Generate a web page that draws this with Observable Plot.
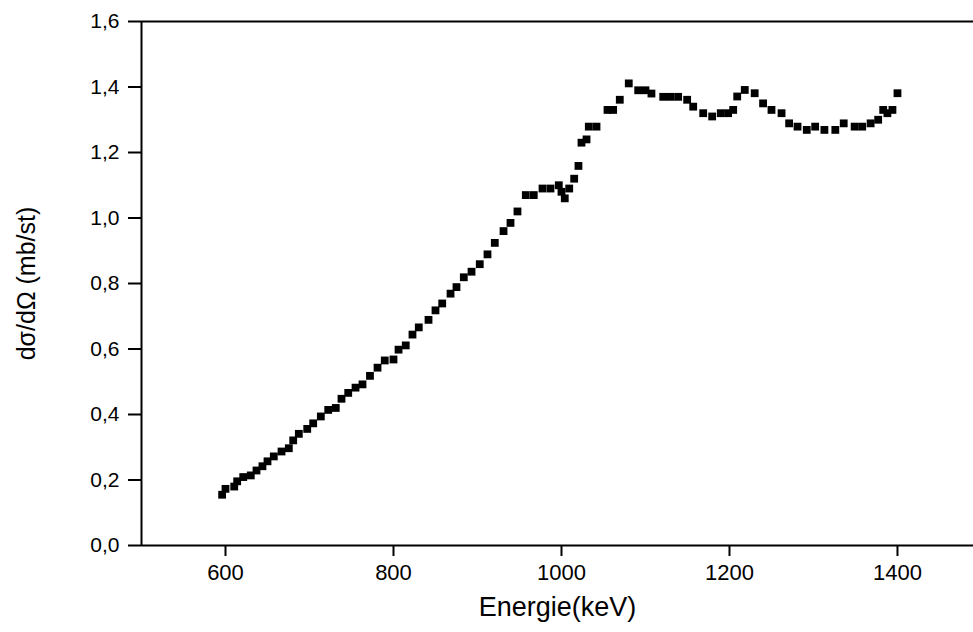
<!DOCTYPE html>
<html>
<head>
<meta charset="utf-8">
<script src="https://cdn.jsdelivr.net/npm/d3@7"></script>
<script src="https://cdn.jsdelivr.net/npm/@observablehq/plot@0.6"></script>
<style>
  html, body { margin: 0; padding: 0; background: white; overflow: hidden; }
</style>
</head>
<body>
<div id="chart"></div>
<script>
const energy = [596, 600, 610.4, 613.9, 621.1, 630.1, 636.9, 644, 650, 657.5, 666.7, 675.4, 680.6, 687.3, 697.3, 704.4, 713.5, 722.3, 731.3, 738.1, 746.1, 754.8, 763.1, 772, 781, 789.6, 800, 806, 814.6, 822.6, 830.1, 841.7, 850, 858, 867.9, 875, 883.7, 892.9, 902.7, 911.9, 920.6, 931, 939.3, 947.6, 957.5, 967, 977.4, 986.9, 996.8, 1000, 1003.9, 1009.2, 1015.1, 1020.2, 1023.8, 1029.8, 1032.5, 1041.7, 1054.8, 1061.5, 1069.4, 1080.1, 1091.3, 1100, 1107.1, 1121.1, 1129.8, 1138.9, 1149.6, 1156.8, 1168.7, 1179.4, 1189.6, 1198.4, 1204.4, 1209.2, 1218.2, 1230, 1240, 1250, 1262, 1271, 1281, 1292, 1302, 1313, 1326, 1336, 1349, 1358, 1368, 1377, 1383, 1388, 1394, 1400];
const sigma = [0.155, 0.173, 0.180, 0.196, 0.209, 0.214, 0.229, 0.242, 0.257, 0.272, 0.287, 0.297, 0.321, 0.341, 0.356, 0.373, 0.394, 0.414, 0.420, 0.448, 0.466, 0.482, 0.492, 0.518, 0.543, 0.565, 0.568, 0.598, 0.611, 0.644, 0.666, 0.689, 0.718, 0.739, 0.769, 0.789, 0.819, 0.836, 0.859, 0.889, 0.924, 0.960, 0.985, 1.020, 1.070, 1.070, 1.090, 1.090, 1.100, 1.080, 1.060, 1.090, 1.120, 1.159, 1.230, 1.240, 1.279, 1.279, 1.330, 1.330, 1.361, 1.411, 1.390, 1.390, 1.380, 1.370, 1.370, 1.370, 1.361, 1.340, 1.320, 1.310, 1.320, 1.320, 1.330, 1.371, 1.391, 1.381, 1.350, 1.330, 1.320, 1.289, 1.279, 1.269, 1.279, 1.269, 1.269, 1.289, 1.279, 1.279, 1.289, 1.300, 1.330, 1.320, 1.330, 1.381];
const xTicks = [600, 800, 1000, 1200, 1400];
const yTicks = [0, 0.2, 0.4, 0.6, 0.8, 1.0, 1.2, 1.4, 1.6];
const xTitle = "Energie(keV)";
const yTitle = "dσ/dΩ (mb/st)";

const data = energy.map((e, i) => ({e, s: sigma[i]}));

const chart = Plot.plot({
  width: 973,
  height: 632,
  marginLeft: 141,
  marginRight: 0,
  marginTop: 21,
  marginBottom: 87,
  x: {domain: [500, 1490.5]},
  y: {domain: [0, 1.6]},
  style: {fontFamily: "'Liberation Sans', Arial, sans-serif", fontSize: "20px", color: "black", background: "white"},
  marks: [
    Plot.ruleY([1.6], {strokeWidth: 2}),
    Plot.ruleY([0], {strokeWidth: 2}),
    Plot.ruleX([500], {strokeWidth: 2}),
    Plot.axisY({ticks: yTicks, tickSize: 13, tickPadding: 9, tickFormat: d => d.toFixed(1).replace(".", ","), label: null, strokeWidth: 2, fontSize: 21}),
    Plot.axisX({ticks: xTicks, tickSize: 11, tickPadding: 8, tickFormat: d => String(d), label: null, strokeWidth: 2, fontSize: 22}),
    Plot.dot(data, {x: "e", y: "s", symbol: "square", r: 4.4, fill: "black", stroke: null}),
    Plot.text([xTitle], {frameAnchor: "bottom", textAnchor: "middle", lineAnchor: "middle", dy: 62, text: d => d, fontSize: 27}),
    Plot.text([yTitle], {frameAnchor: "left", textAnchor: "middle", lineAnchor: "middle", dx: -115, rotate: -90, text: d => d, fontSize: 25})
  ]
});
document.getElementById("chart").append(chart);
</script>
</body>
</html>
